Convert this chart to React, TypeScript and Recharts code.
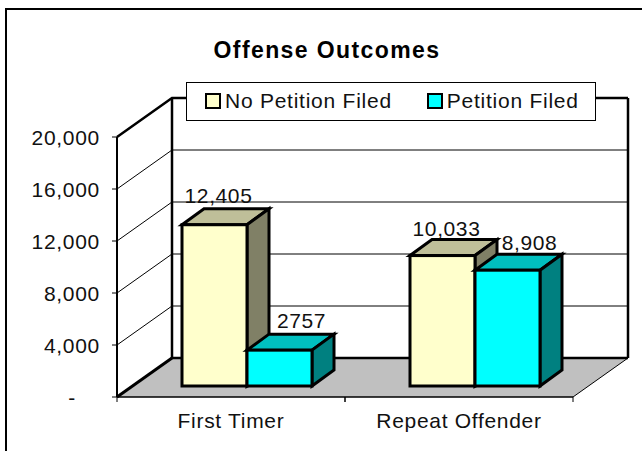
import React from 'react';
import { BarChart, Bar, XAxis, YAxis, Legend, LabelList, CartesianGrid } from 'recharts';

const categories = ['First Timer', 'Repeat Offender'];
const noPetitionFiled = [12405, 10033];
const petitionFiled = [2757, 8908];
const noPetitionLabels = ['12,405', '10,033'];
const petitionLabels = ['2757', '8,908'];
const yTicks = [0, 4000, 8000, 12000, 16000, 20000];
const yTickLabels = ['-', '4,000', '8,000', '12,000', '16,000', '20,000'];

const data = categories.map((name, i) => ({
  name,
  noPetition: noPetitionFiled[i],
  petition: petitionFiled[i],
}));

const FONT = '"Liberation Sans", Arial, sans-serif';
const TEXT = '#111111';

// 3d box offsets, walls go back 55/39, bars sit 16/11 inside the floor and are 22/16 deep
const WALL_DX = 55;
const WALL_DY = 39;
const BAR_DX = 16;
const BAR_DY = 11;
const BOX_DX = 22;
const BOX_DY = 16;

const PLOT_LEFT = 117;
const PLOT_RIGHT = 573;
const PLOT_TOP = 137;
const PLOT_BOTTOM = 397;
const BAND = 228;

// One grid line of the chart becomes one line on the side and back walls.
// The grid sits under the bars, so the floor and walls go here too.
const WallLine = (props: any) => {
  const y = props.y1;
  const backLeft = PLOT_LEFT + WALL_DX;
  const backRight = PLOT_RIGHT + WALL_DX;
  const backY = y - WALL_DY;
  const isFloor = Math.abs(y - PLOT_BOTTOM) < 1;
  const isTop = Math.abs(y - PLOT_TOP) < 1;
  if (isFloor) {
    return (
      <g>
        <path
          d={`M${PLOT_LEFT},${y} L${backLeft},${backY} L${backRight},${backY} L${PLOT_RIGHT},${y} Z`}
          fill="#C0C0C0"
          stroke="#000"
          strokeWidth={1}
        />
        <path d={`M${PLOT_LEFT},${y} L${backLeft},${backY}`} stroke="#000" strokeWidth={3} fill="none" />
        <path d={`M${backLeft},${backY} L${backRight},${backY}`} stroke="#000" strokeWidth={2.5} fill="none" />
        <path d={`M${backLeft},${backY} V${PLOT_TOP - WALL_DY}`} stroke="#000" strokeWidth={2.5} fill="none" />
        <path d={`M${backRight},${backY} V${PLOT_TOP - WALL_DY}`} stroke="#000" strokeWidth={2.5} fill="none" />
      </g>
    );
  }
  return (
    <path
      d={`M${PLOT_LEFT},${y} L${backLeft},${backY} L${backRight},${backY}`}
      stroke="#000"
      strokeWidth={isTop ? 2.5 : 1}
      fill="none"
    />
  );
};

const ValueTick = (props: any) => {
  const { y, index } = props;
  // the zero label is a dash set in from the other labels, accounting style
  const labelX = index === 0 ? 76 : 100;
  return (
    <g>
      <line x1={PLOT_LEFT - 5} x2={PLOT_LEFT} y1={y} y2={y} stroke="#000" strokeWidth={1} />
      <text x={labelX} y={y + 8} textAnchor="end" fontFamily={FONT} fontSize={21} letterSpacing={0.7} fill={TEXT}>
        {yTickLabels[index]}
      </text>
    </g>
  );
};

const Box = (props: any) => {
  const { x, y, width, height, fill, topFill, sideFill } = props;
  const fx = x + BAR_DX;
  const fy = y - BAR_DY;
  const r = fx + width;
  const b = fy + height;
  return (
    <g stroke="#000" strokeWidth={3} strokeLinejoin="miter">
      <path
        d={`M${fx},${fy} L${fx + BOX_DX},${fy - BOX_DY} L${r + BOX_DX},${fy - BOX_DY} L${r},${fy} Z`}
        fill={topFill}
      />
      <path
        d={`M${r},${fy} L${r + BOX_DX},${fy - BOX_DY} L${r + BOX_DX},${b - BOX_DY} L${r},${b} Z`}
        fill={sideFill}
      />
      <rect x={fx} y={fy} width={width} height={height} fill={fill} />
    </g>
  );
};

const valueLabel = (labels: string[], dx: number, dyList: number[]) => (props: any) => {
  const { x, y, width, index } = props;
  return (
    <text
      x={x + width / 2 + BAR_DX + dx}
      y={y - BAR_DY - dyList[index]}
      textAnchor="middle"
      fontFamily={FONT}
      fontSize={21}
      letterSpacing={0.6}
      fill={TEXT}
    >
      {labels[index]}
    </text>
  );
};

const CategoryTick = (props: any) => {
  const { x, payload } = props;
  return (
    <g>
      <line x1={x - BAND / 2} x2={x - BAND / 2} y1={PLOT_BOTTOM} y2={PLOT_BOTTOM + 5} stroke="#000" />
      <line x1={x + BAND / 2} x2={x + BAND / 2} y1={PLOT_BOTTOM} y2={PLOT_BOTTOM + 5} stroke="#000" />
      <text x={x} y={428} textAnchor="middle" fontFamily={FONT} fontSize={21} letterSpacing={0.7} fill={TEXT}>
        {payload.value}
      </text>
    </g>
  );
};

const legendItems = [
  { label: 'No Petition Filed', color: '#FFFFCC' },
  { label: 'Petition Filed', color: '#00FFFF' },
];

const LegendBox = () => (
  <div
    style={{
      boxSizing: 'border-box',
      width: 410,
      height: 39,
      background: '#fff',
      border: '1px solid #000',
      display: 'flex',
      alignItems: 'center',
      fontFamily: FONT,
      fontSize: 21,
      letterSpacing: 0.75,
      color: TEXT,
      paddingLeft: 18,
      paddingBottom: 2,
    }}
  >
    {legendItems.map((item, i) => (
      <span key={item.label} style={{ display: 'flex', alignItems: 'center', marginRight: i === 0 ? 35 : 0 }}>
        <span
          style={{
            boxSizing: 'border-box',
            width: 16,
            height: 16,
            background: item.color,
            border: '2.5px solid #000',
            marginRight: 4,
          }}
        />
        {item.label}
      </span>
    ))}
  </div>
);

export default function App() {
  return (
    <div style={{ position: 'absolute', left: 0, top: 0, width: 642, height: 451, background: '#fff', overflow: 'hidden' }}>
      <div style={{ position: 'absolute', left: 5, top: 8, width: 640, height: 2.4, background: '#000' }} />
      <div style={{ position: 'absolute', left: 5, top: 8, width: 2.4, height: 450, background: '#000' }} />
      <div
        style={{
          position: 'absolute',
          left: 0,
          width: 654,
          top: 36,
          textAlign: 'center',
          fontFamily: FONT,
          fontWeight: 'bold',
          fontSize: 23,
          letterSpacing: 1.4,
          lineHeight: '28px',
          color: '#000',
        }}
      >
        Offense Outcomes
      </div>
      <BarChart
        width={642}
        height={451}
        data={data}
        margin={{ top: 98, right: 69, bottom: 0, left: 0 }}
        barCategoryGap={49}
        barGap={0}
        style={{ position: 'absolute', left: 0, top: 0 }}
      >
        <CartesianGrid vertical={false} horizontal={<WallLine />} syncWithTicks />
        <YAxis
          type="number"
          domain={[0, 20000]}
          ticks={yTicks}
          width={117}
          interval={0}
          tickLine={false}
          axisLine={{ stroke: '#000', strokeWidth: 2 }}
          tick={<ValueTick />}
        />
        <XAxis
          dataKey="name"
          height={54}
          tickLine={false}
          axisLine={{ stroke: '#000' }}
          tick={<CategoryTick />}
        />
        <Legend
          verticalAlign="top"
          content={<LegendBox />}
          wrapperStyle={{ position: 'absolute', left: 186, top: 82, width: 410, height: 39, bottom: 'auto', right: 'auto' }}
        />
        <Bar
          dataKey="noPetition"
          isAnimationActive={false}
          fill="#FFFFCC"
          shape={(p: any) => <Box {...p} fill="#FFFFCC" topFill="#BFBF99" sideFill="#808066" />}
        >
          <LabelList dataKey="noPetition" content={valueLabel(noPetitionLabels, 4, [22, 20])} />
        </Bar>
        <Bar
          dataKey="petition"
          isAnimationActive={false}
          fill="#00FFFF"
          shape={(p: any) => <Box {...p} fill="#00FFFF" topFill="#00BFBF" sideFill="#008080" />}
        >
          <LabelList dataKey="petition" content={valueLabel(petitionLabels, 22, [22, 20])} />
        </Bar>
      </BarChart>
    </div>
  );
}
